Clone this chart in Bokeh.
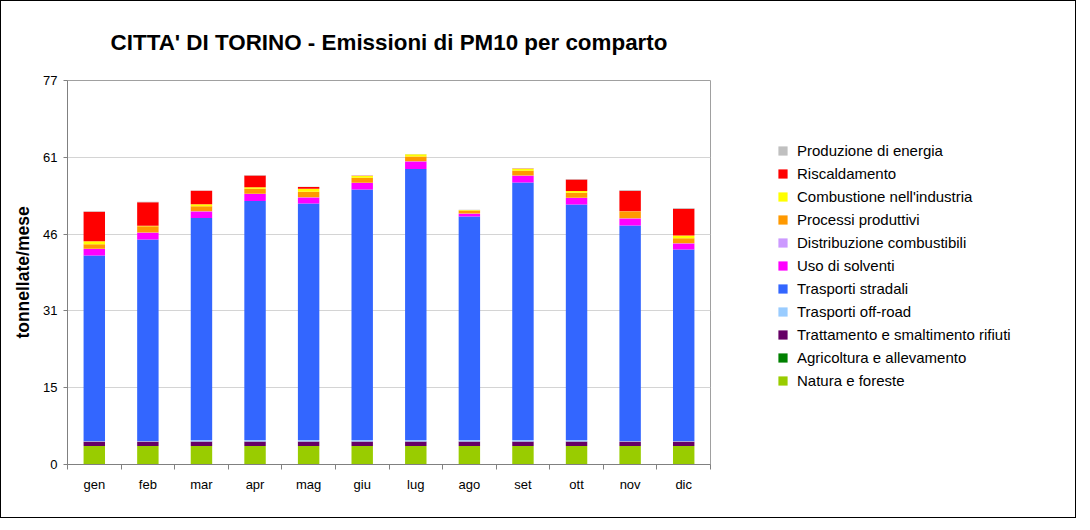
from bokeh.plotting import figure
from bokeh.layouts import row
from bokeh.models import FactorRange, Range1d, LinearAxis, FixedTicker, Legend, LegendItem, ColumnDataSource
from bokeh.embed import file_html
from bokeh.resources import INLINE

TITLE = "CITTA' DI TORINO - Emissioni di PM10 per comparto"
months = ["gen", "feb", "mar", "apr", "mag", "giu", "lug", "ago", "set", "ott", "nov", "dic"]

# stack order: bottom -> top
natura       = [3.7, 3.7, 3.7, 3.7, 3.7, 3.7, 3.7, 3.7, 3.7, 3.7, 3.7, 3.7]
agricoltura  = [0.03, 0.03, 0.03, 0.03, 0.03, 0.03, 0.03, 0.03, 0.03, 0.03, 0.03, 0.03]
rifiuti      = [0.9, 0.9, 0.9, 0.9, 0.9, 0.9, 0.9, 0.9, 0.9, 0.9, 0.9, 0.9]
offroad      = [0.1, 0.1, 0.3, 0.3, 0.3, 0.3, 0.3, 0.3, 0.3, 0.3, 0.1, 0.1]
stradali     = [37.2, 40.4, 44.5, 47.9, 47.4, 50.2, 54.3, 44.8, 51.6, 47.2, 43.2, 38.4]
solventi     = [1.3, 1.35, 1.3, 1.4, 1.2, 1.3, 1.55, 0.55, 1.35, 1.3, 1.4, 1.2]
distribuz    = [0.05, 0.05, 0.05, 0.05, 0.05, 0.05, 0.05, 0.05, 0.05, 0.05, 0.05, 0.05]
processi     = [0.9, 1.25, 1.0, 1.0, 1.1, 1.0, 0.95, 0.6, 0.95, 1.0, 1.35, 1.0]
combustione  = [0.6, 0.1, 0.4, 0.3, 0.6, 0.35, 0.45, 0.1, 0.4, 0.35, 0.05, 0.55]
riscaldam    = [5.9, 4.7, 2.7, 2.35, 0.35, 0.05, 0.0, 0.0, 0.05, 2.3, 4.1, 5.35]
energia      = [0.1, 0.12, 0.05, 0.1, 0.05, 0.05, 0.05, 0.05, 0.05, 0.1, 0.15, 0.15]

keys = ["natura", "agricoltura", "rifiuti", "offroad", "stradali", "solventi",
        "distribuz", "processi", "combustione", "riscaldam", "energia"]
labels = ["Natura e foreste", "Agricoltura e allevamento", "Trattamento e smaltimento rifiuti",
          "Trasporti off-road", "Trasporti stradali", "Uso di solventi",
          "Distribuzione combustibili", "Processi produttivi", "Combustione nell'industria",
          "Riscaldamento", "Produzione di energia"]
colors = ["#99cc00", "#008000", "#660066", "#99ccff", "#3366ff", "#ff00ff",
          "#cc99ff", "#ff9900", "#ffff00", "#ff0000", "#c0c0c0"]

y_ticks = [0, 15.4, 30.8, 46.2, 61.6, 77]
y_tick_labels = ["0", "15", "31", "46", "61", "77"]

data = dict(month=months, natura=natura, agricoltura=agricoltura, rifiuti=rifiuti,
            offroad=offroad, stradali=stradali, solventi=solventi, distribuz=distribuz,
            processi=processi, combustione=combustione, riscaldam=riscaldam, energia=energia)
source = ColumnDataSource(data=data)

FONT = "Liberation Sans"

# ---------------- chart ----------------
p = figure(width=711, height=516, x_range=FactorRange(*months), y_range=Range1d(0, 77),
           output_backend="svg", toolbar_location=None, x_axis_location=None,
           min_border_left=66, min_border_right=2, min_border_top=79, min_border_bottom=53,
           title=TITLE)

p.vbar_stack(keys, x="month", width=0.4, fill_color=colors, line_color=None, source=source)

p.title.align = "center"
p.title.text_font = FONT
p.title.text_font_size = "22.4px"
p.title.text_font_style = "bold"
p.title.text_color = "#000000"
p.title.standoff = 51

p.outline_line_color = "#a0a0a0"
p.xgrid.visible = False
p.ygrid.grid_line_color = "#d4d4d4"
p.background_fill_color = "#ffffff"
p.border_fill_color = "#ffffff"

p.yaxis.ticker = FixedTicker(ticks=y_ticks)
p.yaxis.major_label_overrides = dict(zip(y_ticks, y_tick_labels))
p.yaxis.minor_tick_line_color = None
p.yaxis.major_tick_in = 0
p.yaxis.major_tick_out = 4
p.yaxis.major_tick_line_color = "#808080"
p.yaxis.axis_line_color = "#808080"
p.yaxis.major_label_standoff = 6
p.yaxis.major_label_text_font = FONT
p.yaxis.major_label_text_font_size = "13px"
p.yaxis.major_label_text_color = "#000000"
p.yaxis.axis_label = "tonnellate/mese"
p.yaxis.axis_label_text_font = FONT
p.yaxis.axis_label_text_font_size = "17.5px"
p.yaxis.axis_label_text_font_style = "bold"
p.yaxis.axis_label_text_color = "#000000"
p.yaxis.axis_label_standoff = 7

x_centers = [i + 0.5 for i in range(len(months))]
x_bounds = [float(i) for i in range(len(months) + 1)]
xaxis = LinearAxis(ticker=FixedTicker(ticks=x_centers, minor_ticks=x_bounds),
                   major_label_overrides=dict(zip(x_centers, months)))
xaxis.major_tick_in = 0
xaxis.major_tick_out = 0
xaxis.minor_tick_in = 0
xaxis.minor_tick_out = 5
xaxis.minor_tick_line_color = "#808080"
xaxis.axis_line_color = "#808080"
xaxis.major_label_standoff = 7
xaxis.major_label_text_font = FONT
xaxis.major_label_text_font_size = "13px"
xaxis.major_label_text_color = "#000000"
p.add_layout(xaxis, "below")

# ---------------- legend panel ----------------
lg = figure(width=363, height=516, x_range=Range1d(0, 1), y_range=Range1d(0, 1),
            output_backend="svg", toolbar_location=None,
            x_axis_location=None, y_axis_location=None, min_border=0)
lg.outline_line_color = None
lg.grid.visible = False
lg.background_fill_color = "#ffffff"
lg.border_fill_color = "#ffffff"

items = []
for name, col in zip(labels, colors):
    r = lg.scatter(x=[0.5], y=[float("nan")], marker="square", size=9,
                   fill_color=col, line_color=None)
    items.append(LegendItem(label=name, renderers=[r]))
items = items[::-1]
legend = Legend(items=items, location=(59, 72), orientation="vertical",
                glyph_width=23, glyph_height=23, label_height=23, spacing=0,
                padding=0, margin=0, label_standoff=3, border_line_color=None,
                background_fill_alpha=0, label_text_font=FONT, label_text_font_size="15px",
                label_text_color="#000000")
lg.add_layout(legend)

layout = row(p, lg, spacing=0)
layout.styles = {"border": "1px solid #000000"}

open("out.html", "w").write(file_html(layout, INLINE))
